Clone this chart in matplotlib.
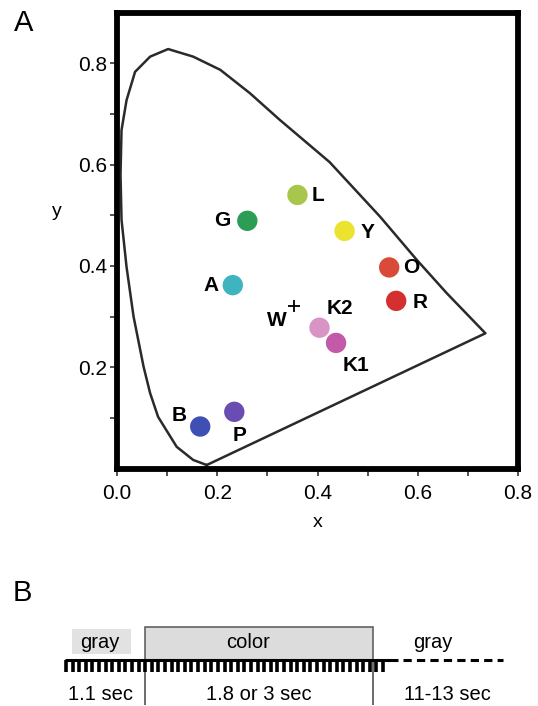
import numpy as np
import matplotlib
matplotlib.use("Agg")
import matplotlib.pyplot as plt
from matplotlib.patches import Rectangle

plt.rcParams['font.family'] = ['Liberation Sans', 'DejaVu Sans']

# chromaticity diagram boundary (x, y)
locus_x = [0.179, 0.152, 0.119, 0.082, 0.066, 0.053, 0.033, 0.019, 0.009, 0.007,
           0.009, 0.019, 0.036, 0.066, 0.102, 0.152, 0.206, 0.265, 0.325, 0.424,
           0.525, 0.598, 0.658, 0.735]
locus_y = [0.007, 0.017, 0.043, 0.102, 0.149, 0.201, 0.300, 0.398, 0.491, 0.580,
           0.668, 0.727, 0.783, 0.813, 0.828, 0.813, 0.787, 0.741, 0.688, 0.605,
           0.497, 0.412, 0.346, 0.267]

# stimulus colours
names = ["L", "G", "Y", "O", "R", "A", "K2", "K1", "B", "P"]
pt_x = [0.360, 0.260, 0.454, 0.543, 0.557, 0.231, 0.404, 0.437, 0.166, 0.234]
pt_y = [0.540, 0.489, 0.469, 0.397, 0.331, 0.362, 0.278, 0.248, 0.083, 0.112]
pt_colors = ["#a9c64c", "#2b9d55", "#ebe32f", "#d94a38", "#d3302f",
             "#3fb4c0", "#d894c4", "#c35aa8", "#3e50b4", "#6a4db2"]
# label positions (data coords)
lab_x = [0.400, 0.209, 0.499, 0.588, 0.604, 0.187, 0.445, 0.476, 0.124, 0.244]
lab_y = [0.538, 0.489, 0.466, 0.397, 0.328, 0.361, 0.315, 0.203, 0.105, 0.066]

white_pt = (0.353, 0.321)

# panel B schematic
top_labels = ["gray", "color", "gray"]
bottom_labels = ["1.1 sec", "1.8 or 3 sec", "11-13 sec"]
n_frames = 49

fig = plt.figure(figsize=(5.38, 7.06), dpi=100)

# ---- panel A
ax = fig.add_axes([0.2175, 0.3363, 0.7453, 0.6459])
ax.plot(locus_x + [locus_x[0]], locus_y + [locus_y[0]], color='#2a2a2a', lw=1.8,
        solid_joinstyle='round')
ax.scatter(pt_x, pt_y, s=215, c=pt_colors, edgecolors='none', zorder=3)
for n, lx, ly in zip(names, lab_x, lab_y):
    ax.text(lx, ly, n, fontsize=15, fontweight='bold', ha='center', va='center')
ax.plot(*white_pt, marker='+', ms=9, mew=1.3, color='black')
ax.text(0.319, 0.292, "W", fontsize=15, fontweight='bold', ha='center', va='center')

ax.set_xlim(0, 0.8)
ax.set_ylim(0, 0.9)
ax.set_xticks(np.arange(0, 0.81, 0.1), minor=True)
ax.set_xticks([0.0, 0.2, 0.4, 0.6, 0.8])
ax.set_yticks(np.arange(0.1, 0.81, 0.1), minor=True)
ax.set_yticks([0.2, 0.4, 0.6, 0.8])
ax.xaxis.set_major_formatter(matplotlib.ticker.FormatStrFormatter('%.1f'))
ax.yaxis.set_major_formatter(matplotlib.ticker.FormatStrFormatter('%.1f'))
ax.tick_params(which='both', direction='out', length=5, width=1.3, color='#444444')
ax.tick_params(axis='x', labelsize=15, pad=6)
ax.tick_params(axis='y', labelsize=15, pad=2)
for sp in ax.spines.values():
    sp.set_linewidth(4.2)
    sp.set_color('black')
ax.set_xlabel("x", fontsize=14, labelpad=8)
ax.set_ylabel("y", fontsize=14, rotation=0)
ax.yaxis.set_label_coords(-0.15, 0.545)

fig.text(0.043, 0.967, "A", fontsize=21, ha='center', va='center')
fig.text(0.041, 0.160, "B", fontsize=21, ha='center', va='center')

# ---- panel B (schematic, coordinates in figure pixels)
bx = fig.add_axes([0, 0, 1, 106 / 706])
bx.set_xlim(0, 538)
bx.set_ylim(706, 600)
bx.axis('off')

bx.add_patch(Rectangle((71.7, 629.3), 59.3, 24.7, facecolor='#e2e2e2', edgecolor='none'))
bx.add_patch(Rectangle((145, 627), 227.7, 33, facecolor='#dcdcdc', edgecolor='#555555', lw=1.1))
bx.vlines([145, 372.7], 660, 705, color='#444444', lw=1.1)
bx.hlines(660, 65, 398, color='black', lw=2.2)
bx.plot([403, 503], [660, 660], color='black', lw=2.2, ls=(0, (2.7, 1.7)))
bx.vlines(np.linspace(66, 383, n_frames), 660, 672, color='black', lw=2.6)

top_x = [100, 248, 433]
bottom_x = [101, 259, 447]
for t, xx in zip(top_labels, top_x):
    bx.text(xx, 642, t, fontsize=14.5, ha='center', va='center')
for t, xx in zip(bottom_labels, bottom_x):
    bx.text(xx, 694, t, fontsize=14.5, ha='center', va='center')

fig.savefig("out.png", dpi=100)
